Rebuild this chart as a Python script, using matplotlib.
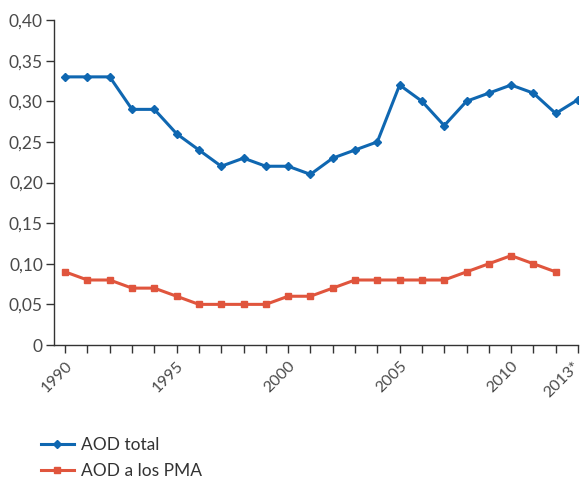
import matplotlib
matplotlib.use("Agg")
import matplotlib.pyplot as plt
import matplotlib.transforms as mtransforms
from matplotlib.ticker import FixedLocator

plt.rcParams['font.family'] = ['Lato', 'DejaVu Sans']

years = list(range(1990, 2014))
aod_total = [0.33, 0.33, 0.33, 0.29, 0.29, 0.26, 0.24, 0.22, 0.23, 0.22, 0.22, 0.21,
             0.23, 0.24, 0.25, 0.32, 0.30, 0.27, 0.30, 0.31, 0.32, 0.31, 0.285, 0.302]
pma_years = list(range(1990, 2013))
aod_pma = [0.09, 0.08, 0.08, 0.07, 0.07, 0.06, 0.05, 0.05, 0.05, 0.05, 0.06, 0.06,
           0.07, 0.08, 0.08, 0.08, 0.08, 0.08, 0.09, 0.10, 0.11, 0.10, 0.09]
label_years = [1990, 1995, 2000, 2005, 2010, 2013]
label_texts = ['1990', '1995', '2000', '2005', '2010', '2013*']
yticks = [0, 0.05, 0.10, 0.15, 0.20, 0.25, 0.30, 0.35, 0.40]
ytick_labels = ['0', '0,05', '0,10', '0,15', '0,20', '0,25', '0,30', '0,35', '0,40']

blue = '#0f67b1'
red = '#e0553d'
txt = '#4a4a4a'

fig = plt.figure(figsize=(5.84, 4.80), dpi=100)
ax = fig.add_axes([54/584, 1-345/480, (578-54)/584, (345-20)/480])

ax.plot(years, aod_total, color=blue, lw=2.2, marker='D', ms=4.5, label='AOD total')
ax.plot(pma_years, aod_pma, color=red, lw=2.2, marker='s', ms=4.5, label='AOD a los PMA')

ax.set_xlim(1989.5, 2013.0)
ax.set_ylim(0, 0.40)
ax.xaxis.set_major_locator(FixedLocator(years))
ax.set_xticklabels([label_texts[label_years.index(y)] if y in label_years else '' for y in years],
                   rotation=45, ha='right', rotation_mode='anchor', fontsize=11.5, color=txt)
ax.set_yticks(yticks)
ax.set_yticklabels(ytick_labels, fontsize=12.5, color=txt)
ax.tick_params(axis='both', direction='out', length=6, width=1, color='#333333')
ax.tick_params(axis='x', pad=4)
ax.tick_params(axis='y', pad=2)
for s in ['top', 'right']:
    ax.spines[s].set_visible(False)
for s in ['left', 'bottom']:
    ax.spines[s].set_color('#333333')
    ax.spines[s].set_linewidth(1)

last = ax.get_xticklabels()[-1]
last.set_transform(last.get_transform() + mtransforms.ScaledTranslation(-5/100, 0, fig.dpi_scale_trans))

leg = fig.legend(loc='upper left', bbox_to_anchor=(25/584, 1-421/480), frameon=False,
                 fontsize=12.5, handlelength=1.9, handletextpad=0.4, labelspacing=0.6)
for t in leg.get_texts():
    t.set_color('#333333')

fig.savefig('out.png', dpi=100)
